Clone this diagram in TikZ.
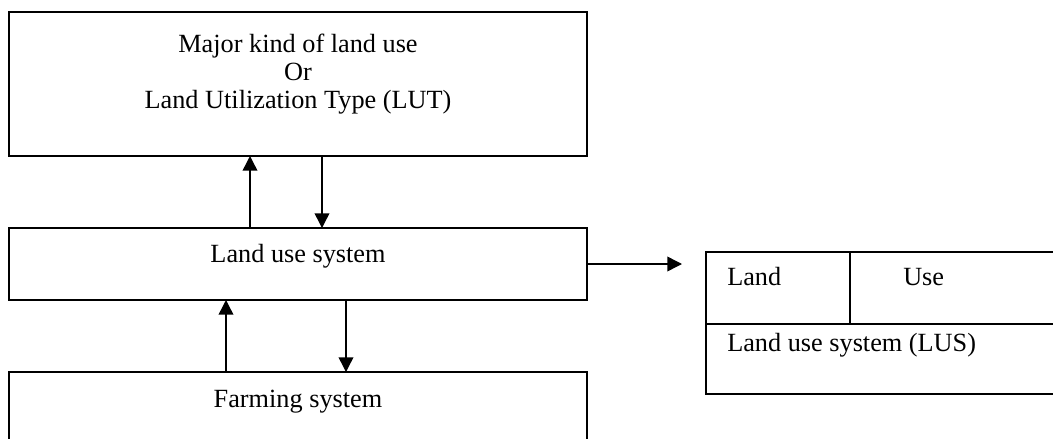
\documentclass[tikz,border=0pt]{standalone}
\usepackage{fontspec}
\setmainfont{Liberation Serif}
\usetikzlibrary{arrows.meta}

\tikzset{
  box/.style={draw, line width=1.1pt, minimum width=433.5pt, inner sep=0pt, outer sep=0pt, anchor=north west},
  cell/.style={draw, line width=1.1pt, inner sep=0pt, outer sep=0pt, anchor=north west},
  txt/.style={inner sep=0pt, anchor=base, font=\fontsize{19.7}{21}\selectfont, align=center},
  arr/.style={line width=1.1pt, -{Triangle[width=11pt,length=11pt]}}
}

\begin{document}
\begin{tikzpicture}[x=0.75pt,y=-0.75pt]
  \useasboundingbox (0,0) rectangle (1053,439);
  \clip (0,0) rectangle (1053,439);
  % boxes on the left
  \node[box, minimum height=108pt] (lut) at (9,12) {};
  \node[box, minimum height=54pt] (lus) at (9,228) {};
  \node[box, minimum height=108pt] (farm) at (9,372) {};
  % table on the right
  \node[cell, minimum width=108pt, minimum height=54pt] (land) at (706,252) {};
  \node[cell, minimum width=187.5pt, minimum height=54pt] (use) at (land.north east) {};
  \node[cell, minimum width=295.5pt, minimum height=52.5pt] (lusrow) at (land.south west) {};
  % texts (base of a multi-line node is its last line)
  \node[txt] (luttxt) at (298,108) {Major kind of land use\\Or\\Land Utilization Type (LUT)};
  \node[txt] (systxt) at (298,262) {Land use system};
  \node[txt] (farmtxt) at (298,407) {Farming system};
  \node[txt, anchor=base west] (landtxt) at (727,285) {Land};
  \node[txt, anchor=base west] (usetxt) at (903,285) {Use};
  \node[txt, anchor=base west] (lustxt) at (727,351) {Land use system (LUS)};
  % arrows
  \draw[arr] ([xshift=-36pt]lus.north) -- ([xshift=-36pt]lut.south);
  \draw[arr] ([xshift=18pt]lut.south) -- ([xshift=18pt]lus.north);
  \draw[arr] ([xshift=-54pt]farm.north) -- ([xshift=-54pt]lus.south);
  \draw[arr] ([xshift=36pt]lus.south) -- ([xshift=36pt]farm.north);
  \draw[arr, shorten >=18pt] (lus.east) -- (lus.east -| land.west);
\end{tikzpicture}
\end{document}
